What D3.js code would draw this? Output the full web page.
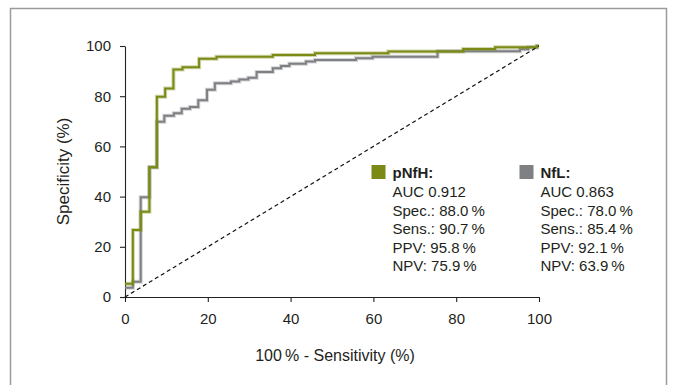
<!DOCTYPE html>
<html><head><meta charset="utf-8">
<script src="https://cdn.jsdelivr.net/npm/d3@7"></script>
<style>
body{margin:0;background:#fff;}
svg{display:block;font-family:"Liberation Sans",Arial,Helvetica,sans-serif;}
</style></head>
<body><svg id="chart" width="675" height="385"></svg>
<script>
// ---- data ----
const xTicks = [0, 20, 40, 60, 80, 100];
const yTicks = [0, 20, 40, 60, 80, 100];
// pNfH ROC (100% - sensitivity, specificity) step vertices
const pnfhX = [0, 1.9, 3.8, 5.9, 7.7, 9.7, 11.7, 13.9, 17.9, 22.1, 35.7, 45.9, 63.6, 81.7, 89.4, 99.5, 100];
const pnfhY = [5.3, 26.7, 34.0, 51.7, 79.8, 83.1, 90.6, 91.5, 94.9, 95.7, 96.4, 97.1, 97.8, 98.8, 99.5, 100, 100];
// NfL ROC
const nflX = [0, 1.9, 3.8, 5.9, 7.7, 9.5, 11.8, 13.7, 15.7, 17.7, 19.8, 21.7, 25.6, 27.6, 29.8, 31.8, 35.7, 37.7, 39.7, 43.7, 45.9, 55.8, 59.8, 75.5, 95.4, 97.4, 99.5, 100];
const nflY = [3.7, 6.1, 39.7, 51.7, 69.8, 72.2, 73.2, 75.0, 75.7, 78.4, 82.6, 85.2, 85.9, 86.7, 87.4, 89.6, 91.1, 92.0, 92.9, 93.8, 94.4, 95.1, 95.7, 97.9, 98.7, 99.5, 100, 100];
const refX = [0, 100];
const refY = [0, 100];
const seriesNames = ["pNfH:", "NfL:"];
const pnfhStats = ["AUC 0.912", "Spec.: 88.0\u2009%", "Sens.: 90.7\u2009%", "PPV: 95.8\u2009%", "NPV: 75.9\u2009%"];
const nflStats = ["AUC 0.863", "Spec.: 78.0\u2009%", "Sens.: 85.4\u2009%", "PPV: 92.1\u2009%", "NPV: 63.9\u2009%"];
const xTitle = "100\u2009% - Sensitivity (%)";
const yTitle = "Specificity (%)";

// ---- styles ----
const green = "#7b8a14", gray = "#7f8083", textCol = "#231f20";

const svg = d3.select("#chart");
// frame
svg.append("rect").attr("x", 10.5).attr("y", 8.5).attr("width", 656).attr("height", 400)
  .attr("fill", "none").attr("stroke", "#9a9a9a").attr("stroke-width", 1.5);

const x = d3.scaleLinear().domain([0, 100]).range([125, 539]);
const y = d3.scaleLinear().domain([0, 100]).range([297, 46]);

const xAxis = svg.append("g").attr("transform", `translate(0,${y(0)})`)
  .call(d3.axisBottom(x).tickValues(xTicks).tickSize(5).tickSizeOuter(0).tickPadding(11));
const yAxis = svg.append("g").attr("transform", `translate(${x(0)},0)`)
  .call(d3.axisLeft(y).tickValues(yTicks).tickSize(5).tickSizeOuter(0).tickPadding(9));
[xAxis, yAxis].forEach(a => {
  a.selectAll("path,line").attr("stroke", "#222").attr("stroke-width", 1.1);
  a.selectAll("text").attr("font-size", 15).attr("fill", textCol).attr("font-family", "Liberation Sans, Arial, sans-serif");
});

svg.append("text").attr("x", (x(0) + x(100)) / 2 + 3).attr("y", 361).attr("text-anchor", "middle")
  .attr("font-size", 16).attr("fill", textCol).text(xTitle);
svg.append("text").attr("transform", `translate(69,${(y(0) + y(100)) / 2}) rotate(-90)`)
  .attr("text-anchor", "middle").attr("font-size", 17).attr("fill", textCol).text(yTitle);

const line = d3.line().x(d => x(d[0])).y(d => y(d[1])).curve(d3.curveStepAfter);
function drawSeries(xs, ys, col) {
  const pts = xs.map((v, i) => [v, ys[i]]);
  svg.append("path").attr("d", line(pts)).attr("fill", "none").attr("stroke", col)
    .attr("stroke-opacity", 0.35).attr("stroke-width", 4);
  svg.append("path").attr("d", line(pts)).attr("fill", "none").attr("stroke", col)
    .attr("stroke-width", 2);
}
drawSeries(nflX, nflY, gray);
drawSeries(pnfhX, pnfhY, green);

svg.append("path").attr("d", d3.line().x(d => x(d[0])).y(d => y(d[1]))(refX.map((v, i) => [v, refY[i]])))
  .attr("fill", "none").attr("stroke", "#111").attr("stroke-width", 1.2).attr("stroke-dasharray", "4,3");

// legend
function legend(x0, col, name, stats) {
  svg.append("rect").attr("x", x0).attr("y", 165).attr("width", 14).attr("height", 14).attr("fill", col);
  svg.append("text").attr("x", x0 + 21).attr("y", 178).attr("font-size", 15).attr("font-weight", "bold")
    .attr("fill", textCol).text(name);
  stats.forEach((s, i) => {
    svg.append("text").attr("x", x0 + 21).attr("y", 197 + i * 18.6).attr("font-size", 15)
      .attr("fill", textCol).text(s);
  });
}
legend(371.5, green, seriesNames[0], pnfhStats);
legend(519.5, gray, seriesNames[1], nflStats);
</script></body></html>
